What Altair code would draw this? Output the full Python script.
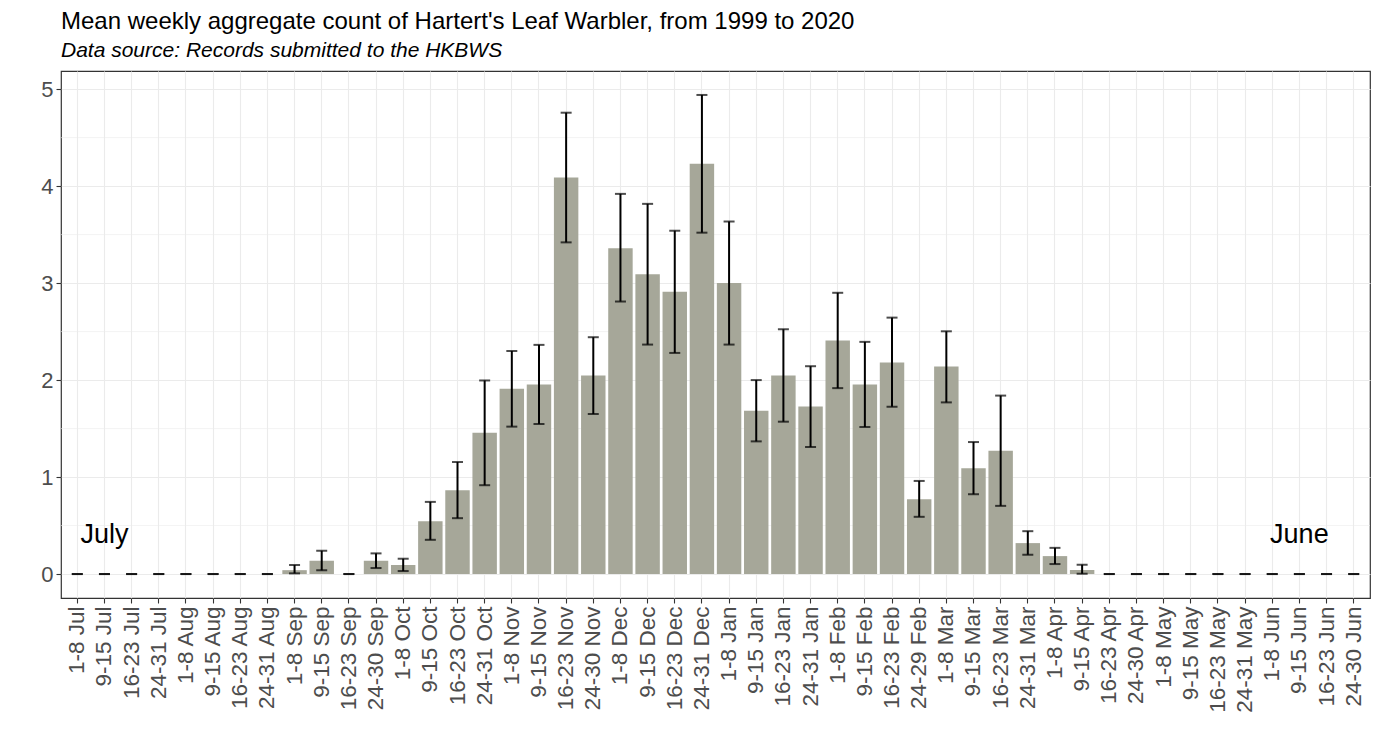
import altair as alt
import pandas as pd

weeks = [
    "1-8 Jul", "9-15 Jul", "16-23 Jul", "24-31 Jul",
    "1-8 Aug", "9-15 Aug", "16-23 Aug", "24-31 Aug",
    "1-8 Sep", "9-15 Sep", "16-23 Sep", "24-30 Sep",
    "1-8 Oct", "9-15 Oct", "16-23 Oct", "24-31 Oct",
    "1-8 Nov", "9-15 Nov", "16-23 Nov", "24-30 Nov",
    "1-8 Dec", "9-15 Dec", "16-23 Dec", "24-31 Dec",
    "1-8 Jan", "9-15 Jan", "16-23 Jan", "24-31 Jan",
    "1-8 Feb", "9-15 Feb", "16-23 Feb", "24-29 Feb",
    "1-8 Mar", "9-15 Mar", "16-23 Mar", "24-31 Mar",
    "1-8 Apr", "9-15 Apr", "16-23 Apr", "24-30 Apr",
    "1-8 May", "9-15 May", "16-23 May", "24-31 May",
    "1-8 Jun", "9-15 Jun", "16-23 Jun", "24-30 Jun",
]

means = [
    0, 0, 0, 0,
    0, 0, 0, 0,
    0.04, 0.137, 0, 0.137,
    0.093, 0.545, 0.864, 1.458,
    1.91, 1.955, 4.09, 2.047,
    3.36, 3.09, 2.91, 4.23,
    3.00, 1.684, 2.047, 1.728,
    2.407, 1.955, 2.18, 0.771,
    2.14, 1.09, 1.272, 0.319,
    0.185, 0.041, 0, 0,
    0, 0, 0, 0,
    0, 0, 0, 0,
]

lows = [
    0, 0, 0, 0,
    0, 0, 0, 0,
    0.007, 0.038, 0, 0.062,
    0.031, 0.353, 0.576, 0.916,
    1.52, 1.547, 3.42, 1.65,
    2.81, 2.366, 2.28, 3.52,
    2.366, 1.368, 1.571, 1.31,
    1.917, 1.516, 1.725, 0.59,
    1.77, 0.823, 0.703, 0.199,
    0.103, 0.003, 0, 0,
    0, 0, 0, 0,
    0, 0, 0, 0,
]

highs = [
    0, 0, 0, 0,
    0, 0, 0, 0,
    0.093, 0.24, 0, 0.213,
    0.158, 0.744, 1.155, 1.996,
    2.30, 2.363, 4.757, 2.442,
    3.92, 3.817, 3.54, 4.94,
    3.635, 2.0, 2.524, 2.143,
    2.9, 2.394, 2.644, 0.96,
    2.503, 1.361, 1.84, 0.442,
    0.27, 0.096, 0, 0,
    0, 0, 0, 0,
    0, 0, 0, 0,
]

y_ticks = [0, 1, 2, 3, 4, 5]
minor_breaks = [0.5, 1.5, 2.5, 3.5, 4.5]

ann_weeks = ["9-15 Jul", "9-15 Jun"]
ann_labels = ["July", "June"]
ann_y = [0.4, 0.4]

df = pd.DataFrame({"week": weeks, "mean": means, "low": lows, "high": highs})
ann = pd.DataFrame({"week": ann_weeks, "label": ann_labels, "y": ann_y})
minor = pd.DataFrame({"y": minor_breaks})

FONT = "Liberation Sans"
GRID = "#ebebeb"

x_enc = alt.X(
    "week:N",
    sort=weeks,
    title=None,
    scale=alt.Scale(domain=weeks, paddingInner=0.1, paddingOuter=0.15),
    axis=alt.Axis(
        labelAngle=270,
        labelFontSize=22.5,
        labelColor="#4d4d4d",
        labelFont=FONT,
        labelPadding=3,
        tickColor="#333333",
        tickSize=5,
        tickWidth=1.1,
        grid=True,
        gridColor=GRID,
        gridWidth=1.1,
        bandPosition=0.5,
        domain=False,
    ),
)

y_scale = alt.Scale(domain=[-0.247, 5.187], nice=False, zero=False)
y_axis = alt.Axis(
    values=y_ticks,
    format="d",
    title=None,
    labelFontSize=22,
    labelColor="#4d4d4d",
    labelFont=FONT,
    labelPadding=3,
    tickColor="#333333",
    tickSize=5,
    tickWidth=1.1,
    grid=True,
    gridColor=GRID,
    gridWidth=1.1,
    domain=False,
)

minor_grid = alt.Chart(minor).mark_rule(color=GRID, strokeWidth=0.6).encode(
    y=alt.Y("y:Q", scale=y_scale, axis=y_axis)
)

bars = alt.Chart(df).mark_bar(color="#a6a799").encode(
    x=x_enc,
    y=alt.Y("mean:Q", scale=y_scale, axis=y_axis),
)

stems = alt.Chart(df).mark_rule(color="black", strokeWidth=2).encode(
    x=x_enc,
    y=alt.Y("low:Q", scale=y_scale),
    y2="high:Q",
)

caps_low = alt.Chart(df).mark_tick(color="black", thickness=2, size=11).encode(
    x=x_enc, y=alt.Y("low:Q", scale=y_scale)
)
caps_high = alt.Chart(df).mark_tick(color="black", thickness=2, size=11).encode(
    x=x_enc, y=alt.Y("high:Q", scale=y_scale)
)

labels = alt.Chart(ann).mark_text(
    font=FONT, fontSize=27, color="black", align="center", baseline="middle"
).encode(
    x=x_enc,
    y=alt.Y("y:Q", scale=y_scale),
    text="label:N",
)

chart = alt.layer(minor_grid, bars, stems, caps_low, caps_high, labels).properties(
    width=1309,
    height=527,
    background="white",
    autosize=alt.AutoSizeParams(type="none"),
    padding={"left": 53, "top": 63, "right": 2, "bottom": 140},
    title=alt.TitleParams(
        text="Mean weekly aggregate count of Hartert's Leaf Warbler, from 1999 to 2020",
        subtitle="Data source: Records submitted to the HKBWS",
        anchor="start",
        frame="group",
        font=FONT,
        fontSize=24,
        fontWeight="normal",
        color="black",
        subtitleFont=FONT,
        subtitleFontSize=21,
        subtitleFontStyle="italic",
        subtitleColor="black",
        subtitlePadding=6,
        offset=10,
    ),
).configure_view(stroke="#333333", strokeWidth=1.2)

chart.save("out.html", embed_options={"renderer": "svg", "actions": False})
